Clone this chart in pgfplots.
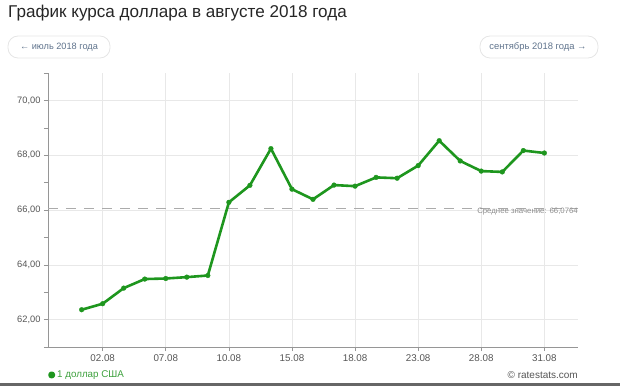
\documentclass[border=0pt]{standalone}
\usepackage{pgfplots}
\pgfplotsset{compat=1.18}
\usepackage{fontspec}
\setmainfont{Liberation Sans}
\definecolor{lineg}{RGB}{30,150,30}
\definecolor{legtext}{RGB}{60,160,60}
\definecolor{btn}{RGB}{95,115,140}
\definecolor{tickc}{RGB}{85,85,85}
\definecolor{gridc}{RGB}{232,232,232}
\definecolor{axc}{RGB}{150,150,150}
\pgfplotstableread{
x y
0 62.36
1 62.58
2 63.15
3 63.48
4 63.50
5 63.55
6 63.61
7 66.28
8 66.90
9 68.24
10 66.76
11 66.39
12 66.91
13 66.87
14 67.19
15 67.16
16 67.62
17 68.53
18 67.79
19 67.42
20 67.39
21 68.17
22 68.08
}\usd
\begin{document}
\begin{tikzpicture}[x=1pt,y=1pt]
\useasboundingbox (0,0) rectangle (620,386);
\node[anchor=base west, font=\fontsize{17.1}{21}\selectfont, text=black!85, inner sep=0] at (8,368) {График курса доллара в августе 2018 года};
\draw[draw=black!10, rounded corners=10pt, line width=0.8pt] (8,328) rectangle (110,350);
\node[text=btn, font=\fontsize{9.2}{11}\selectfont, inner sep=0] at (59,339) {← июль 2018 года};
\draw[draw=black!10, rounded corners=10pt, line width=0.8pt] (480,328) rectangle (598,350);
\node[text=btn, font=\fontsize{9.4}{11}\selectfont, inner sep=0] at (538,339) {сентябрь 2018 года →};
\fill[black!60] (0,0) rectangle (620,3);
\node[anchor=east, text=tickc, font=\fontsize{10}{12}\selectfont, inner sep=0] at (578,11) {© ratestats.com};
\begin{axis}[
  at={(48pt,39pt)}, anchor=south west,
  scale only axis, width=530pt, height=274pt,
  xmin=-1.6, xmax=23.6, ymin=61, ymax=71,
  axis lines*=left,
  axis line style={draw=axc, line width=0.8pt},
  xtick={1,4,7,10,13,16,19,22},
  xticklabels={02.08,07.08,10.08,15.08,18.08,23.08,28.08,31.08},
  ytick={62,64,66,68,70},
  yticklabels={{62,00},{64,00},{66,00},{68,00},{70,00}},
  minor ytick={61,63,65,67,69,71},
  tick align=outside,
  major tick length=4pt, minor tick length=4pt,
  tick style={draw=axc, line width=0.6pt},
  grid=major,
  major grid style={draw=gridc, line width=0.6pt},
  ticklabel style={text=tickc},
  xticklabel style={font=\fontsize{9.8}{12}\selectfont},
  yticklabel style={font=\fontsize{9.3}{12}\selectfont},
  legend style={at={(0,-0.102)}, anchor=west, draw=none, fill=none, inner sep=0pt,
    font=\fontsize{9.8}{12}\selectfont, text=legtext},
  legend cell align=left,
  clip=false,
]
\addplot[draw=axc!80, dash pattern=on 10pt off 8pt, line width=0.8pt, forget plot] coordinates {(-1.6,66.0764) (23.6,66.0764)};
\node[anchor=east, text=black!45, font=\fontsize{7.8}{9}\selectfont, inner sep=0] at (axis cs:23.6,66.0764) [yshift=-3.5pt] {Среднее значение: 66,0764};
\addplot[lineg, line width=2.6pt, line join=round, mark=*, mark size=2.4pt,
  mark options={draw=lineg, fill=lineg, line width=0.3pt, solid},
  legend image code/.code={\fill[lineg] (0pt,0pt) circle (2.2pt);}] table {\usd};
\addlegendentry{1 доллар США}
\end{axis}
\end{tikzpicture}
\end{document}
